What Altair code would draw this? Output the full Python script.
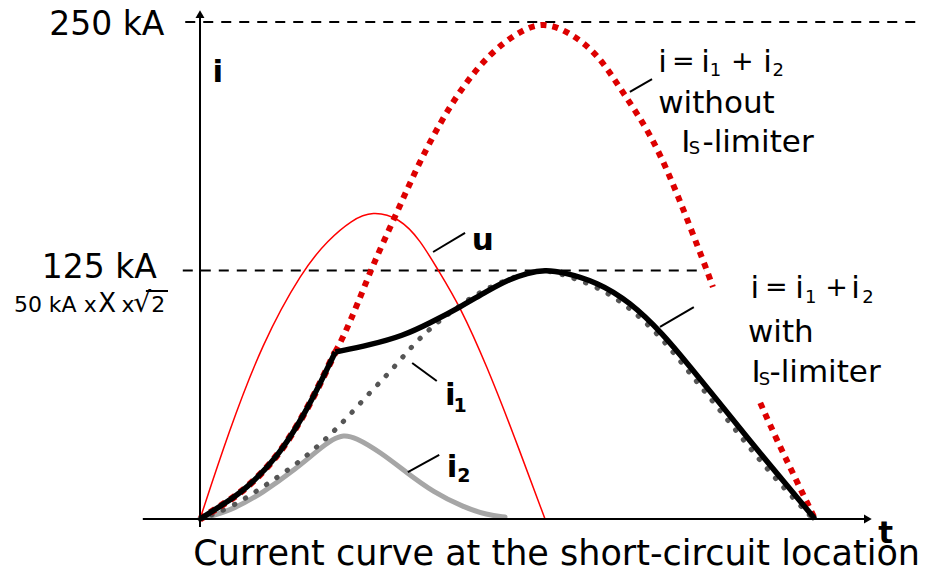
import altair as alt
import pandas as pd

# ---------------- data: t in ms, i in kA ----------------
# i = i1 + i2 with Is-limiter (black): rise until the limiter acts, then limited wave
with_rise_t = [0, 0.41, 0.73, 1.27, 1.71, 1.98, 2.20]
with_rise_i = [0, 8.0, 14.6, 31.2, 53.3, 69.9, 84.0]
with_fall_t = [2.20, 2.76, 3.30, 3.74, 4.23, 4.67, 5.04, 5.32, 5.61, 5.90, 6.46, 6.99, 7.53, 7.97, 8.41, 8.89, 9.43, 10.0]
with_fall_i = [84.0, 87.5, 92.1, 98.6, 106.6, 114.7, 120.7, 123.7, 125.3, 124.2, 119.2, 109.2, 93.1, 76.5, 59.9, 41.2, 21.1, 0]

# i = i1 + i2 without Is-limiter (red dotted), prospective peak 250 kA
without_a_t = [2.20, 2.33, 2.57, 2.81, 3.20, 3.53, 3.90, 4.28, 4.72, 5.15, 5.58, 6.02, 6.46, 6.88, 7.32, 7.69, 7.97, 8.24, 8.34]
without_a_i = [84.0, 91.5, 108.7, 127.8, 154.0, 177.1, 199.2, 218.0, 234.4, 244.5, 250.5, 244.5, 234.4, 214.3, 194.2, 169.0, 146.9, 125.3, 116.7]
without_b_t = [9.11, 9.38, 9.64, 10.0]
without_b_i = [58.4, 39.7, 23.1, 0]

# i1 (grey dotted)
i1_t = [0, 0.50, 1.02, 1.51, 1.84, 2.08, 2.39, 2.80, 3.09, 3.46, 3.77, 4.05, 4.39, 4.67, 5.04, 5.32, 5.61,
        5.90, 6.46, 6.99, 7.53, 7.97, 8.41, 8.89, 9.43, 9.97]
i1_i = [0, 5.5, 16.1, 26.2, 34.7, 41.2, 50.8, 64.9, 73.9, 87.5, 96.6, 103.5, 111.0, 116.0, 121.0, 123.8, 125.3,
        123.0, 117.0, 106.5, 90.5, 73.0, 56.5, 37.5, 17.5, 0]

# i2 (light grey)
i2_t = [0, 0.49, 1.02, 1.58, 1.92, 2.16, 2.33, 2.52, 2.93, 3.37, 3.79, 4.28, 4.67, 4.96]
i2_i = [0, 4.0, 13.1, 25.7, 34.7, 40.2, 42.3, 41.2, 33.7, 23.1, 13.6, 6.0, 2.0, 1.0]

# u (thin red)
u_t = [0, 0.46, 1.01, 1.67, 2.08, 2.47, 2.80, 3.25, 3.58, 3.87, 4.23, 4.67, 5.09, 5.61]
u_i = [0, 43.3, 88.5, 125.3, 140.3, 150.4, 155.0, 151.4, 140.3, 125.3, 107.0, 76.5, 43.3, 0]

# reference levels
levels_kA = [250, 125]

# ---------------- scales ----------------
FONT = "DejaVu Sans"
XMIN, XMAX = -3.1220, 11.9024
YMIN, YMAX = -25.654, 257.04
xs = alt.Scale(domain=[XMIN, XMAX], nice=False, zero=False)
ys = alt.Scale(domain=[YMIN, YMAX], nice=False, zero=False)
X = alt.X("t:Q", scale=xs, axis=None)
Y = alt.Y("i:Q", scale=ys, axis=None)


def line_layer(t, i, color, width, dash=None, cap="butt"):
    df = pd.DataFrame({"t": t, "i": i})
    kw = dict(color=color, strokeWidth=width, interpolate="basis", strokeCap=cap)
    if dash:
        kw["strokeDash"] = dash
    return alt.Chart(df).mark_line(**kw).encode(x=X, y=Y)


def rule_layer(rows, width, dash=None, color="black"):
    df = pd.DataFrame(rows, columns=["t", "i", "t2", "i2"])
    kw = dict(color=color, strokeWidth=width)
    if dash:
        kw["strokeDash"] = dash
    return alt.Chart(df).mark_rule(**kw).encode(
        x=X, y=Y, x2=alt.X2("t2:Q"), y2=alt.Y2("i2:Q"))


def text_layer(rows, size, weight="normal", align="left"):
    df = pd.DataFrame(rows, columns=["text", "t", "i"])
    return alt.Chart(df).mark_text(
        font=FONT, fontSize=size, fontWeight=weight, align=align,
        baseline="alphabetic", color="black").encode(x=X, y=Y, text="text:N")


def arrow_layer(t, i, shape):
    df = pd.DataFrame({"t": [t], "i": [i]})
    return alt.Chart(df).mark_point(shape=shape, filled=True, size=80, color="black",
                                    opacity=1).encode(x=X, y=Y)


RED = "#dd0000"

layers = [
    # dashed reference lines
    rule_layer([[-0.24, levels_kA[0], 11.75, levels_kA[0]],
                [-0.28, levels_kA[1], 8.21, levels_kA[1]]], 2, dash=[10, 8]),
    # curves
    line_layer(u_t, u_i, "#ff0000", 1.5),
    line_layer(i2_t, i2_i, "#a6a6a6", 5, cap="round"),
    line_layer(i1_t, i1_i, "#555555", 5, dash=[0.5, 12], cap="round"),
    line_layer(with_rise_t, with_rise_i, RED, 7, dash=[6, 6]),
    line_layer(without_a_t, without_a_i, RED, 6, dash=[6, 6]),
    line_layer(without_b_t, without_b_i, RED, 6, dash=[6, 6]),
    line_layer(with_rise_t, with_rise_i, "black", 5.5),
    line_layer(with_fall_t, with_fall_i, "black", 5.5),
    # axes
    rule_layer([[0, -4, 0, 252], [-0.93, 0, 10.8, 0]], 2),
    arrow_layer(0, 254.0, "triangle-up"),
    arrow_layer(10.86, 0, "triangle-right"),
    # leader lines
    rule_layer([[3.79, 134.3, 4.31, 143.9],
                [3.45, 78.5, 3.85, 69.4],
                [3.38, 23.6, 3.89, 32.2],
                [6.99, 214.8, 7.35, 221.3],
                [7.48, 96.6, 8.03, 106.6],
                [-0.88, 114.7, -0.52, 114.7]], 2),
    # level labels
    text_layer([["250 kA", -0.58, 243.5], ["125 kA", -0.70, 121.2]], 33, align="right"),
    text_layer([["50 kA x", -1.68, 104.1]], 22, align="right"),
    text_layer([["X", -1.51, 104.1]], 26, align="center"),
    text_layer([["x", -1.17, 104.1], ["2", -0.68, 104.1]], 22, align="center"),
    text_layer([["√", -0.94, 104.1]], 28, align="center"),
    # axis names and title
    text_layer([["i", 0.29, 219.8], ["u", 4.60, 135.3], ["i", 4.07, 57.3], ["i", 4.10, 21.1],
                ["t", 11.15, -12.1]], 31, weight="bold", align="center"),
    text_layer([["1", 4.23, 53.8], ["2", 4.29, 18.6]], 19, weight="bold", align="center"),
    text_layer([["Current curve at the short-circuit location", 5.80, -23.3]], 35, align="center"),
    # right-hand labels
    text_layer([["i", 7.52, 224.8], ["i", 8.22, 224.8], ["i", 9.23, 224.8],
                ["i", 9.02, 111.2], ["i", 9.75, 111.2], ["i", 10.66, 111.2],
                ["I", 7.90, 184.8], ["I", 9.04, 68.9]], 31, align="center"),
    text_layer([["=", 7.86, 226.0], ["+", 8.82, 226.0],
                ["=", 9.37, 112.4], ["+", 10.35, 112.4]], 27, align="center"),
    text_layer([["1", 8.38, 222.6], ["2", 9.40, 222.6], ["1", 9.93, 108.7], ["2", 10.86, 108.7],
                ["S", 8.04, 183.6], ["S", 9.18, 67.4]], 18, align="center"),
    text_layer([["without", 7.45, 204.2], ["-limiter", 8.17, 184.8],
                ["with", 8.91, 89.0], ["-limiter", 9.26, 68.9]], 31, align="left"),
]

chart = alt.layer(*layers).properties(
    width=924, height=562, padding=0,
    autosize=alt.AutoSizeParams(type="none"),
    background="white",
).configure_view(stroke=None)

chart.save("out.html", embed_options={"renderer": "svg", "actions": False})
